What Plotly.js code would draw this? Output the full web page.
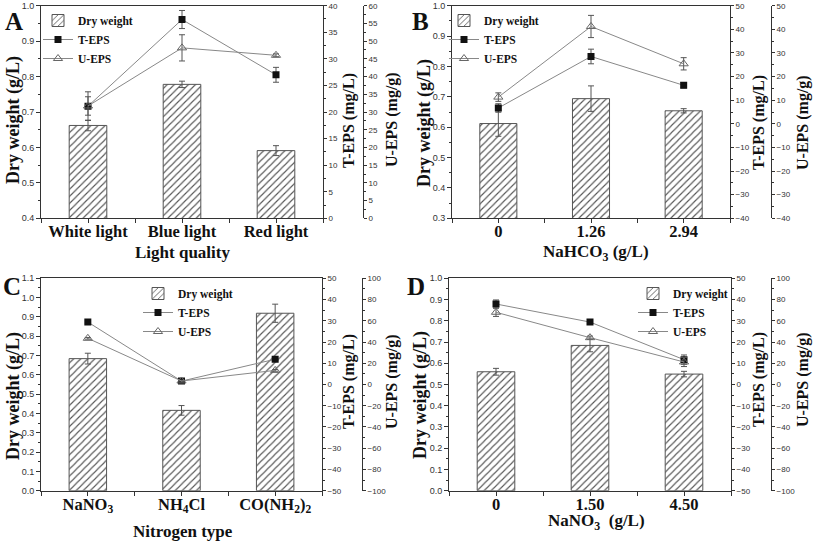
<!DOCTYPE html>
<html>
<head>
<meta charset="utf-8">
<script src="https://cdn.plot.ly/plotly-3.0.1.min.js"></script>
<style>html,body{margin:0;padding:0;background:#fff}#chart{width:813px;height:541px}</style>
</head>
<body>
<div id="chart"></div>
<script>
// ---------- DATA ----------
const catsA = ['White light', 'Blue light', 'Red light'];
const dryA = [0.662, 0.778, 0.591];
const dryErrA = [0.015, 0.009, 0.014];
const tepsA = [21.1, 37.4, 27.0];
const tepsErrA = [2.7, 1.7, 1.4];
const uepsA = [31.7, 48.1, 46.0];
const uepsErrA = [2.6, 3.7, 0.4];

const catsB = ['0', '1.26', '2.94'];
const dryB = [0.612, 0.694, 0.654];
const dryErrB = [0.042, 0.042, 0.007];
const tepsB = [6.7, 28.5, 16.3];
const tepsErrB = [1.8, 3.1, 1.1];
const uepsB = [11.3, 41.2, 25.4];
const uepsErrB = [1.8, 4.7, 2.6];

const catsC = ['NaNO<sub>3</sub>', 'NH<sub>4</sub>Cl', 'CO(NH<sub>2</sub>)<sub>2</sub>'];
const dryC = [0.684, 0.416, 0.919];
const dryErrC = [0.028, 0.025, 0.047];
const tepsC = [29.4, 1.6, 11.9];
const tepsErrC = [0.5, 0.5, 0.5];
const uepsC = [43.5, 3.3, 13.3];
const uepsErrC = [0.8, 0.8, 0.8];

const catsD = ['0', '1.50', '4.50'];
const dryD = [0.560, 0.684, 0.549];
const dryErrD = [0.016, 0.030, 0.013];
const tepsD = [37.9, 29.4, 11.7];
const tepsErrD = [1.9, 0.8, 2.2];
const uepsD = [68.0, 44.1, 21.2];
const uepsErrD = [3.9, 1.5, 4.3];

const xTitles = ['Light quality', 'NaHCO<sub>3</sub> (g/L)', 'Nitrogen type', 'NaNO<sub>3</sub>  (g/L)'];
const yTitleDry = 'Dry weight (g/L)';
const yTitleT = 'T-EPS (mg/L)';
const yTitleU = 'U-EPS (mg/g)';
const panelLetters = ['A', 'B', 'C', 'D'];

// ---------- STYLE / LAYOUT ----------
const W = 813, H = 541;
const SERIF = 'Liberation Serif, Times New Roman, serif';
const SANS = 'Liberation Sans, Arial, sans-serif';
const AX = '#333';
const LN = '#888';

const panels = [
  {cats: catsA, dry: dryA, dryErr: dryErrA, t: tepsA, tErr: tepsErrA, u: uepsA, uErr: uepsErrA,
   px: [41, 323], py: [5.7, 218.3], upos: 363, yr: [0.4, 1.0], tr: [0, 40], tdt: 5, ur: [0, 60], udt: 5,
   leg: [38, 6], letter: [14, 21],
   tDry: [13, 120], tT: [349, 121], tU: [392, 120], tX: [182, 252]},
  {cats: catsB, dry: dryB, dryErr: dryErrB, t: tepsB, tErr: tepsErrB, u: uepsB, uErr: uepsErrB,
   px: [452, 730], py: [5.7, 218.3], upos: 771, yr: [0.3, 1.0], tr: [-40, 50], tdt: 10, ur: [-40, 50], udt: 10,
   leg: [444, 6], letter: [420, 21],
   tDry: [424, 123], tT: [759, 123], tU: [803, 123], tX: [596, 253]},
  {cats: catsC, dry: dryC, dryErr: dryErrC, t: tepsC, tErr: tepsErrC, u: uepsC, uErr: uepsErrC,
   px: [41, 322], py: [278.3, 490.7], upos: 362, yr: [0, 1.1], tr: [-50, 50], tdt: 10, ur: [-100, 100], udt: 20,
   leg: [138, 279], letter: [12, 286],
   tDry: [13, 396], tT: [349, 382], tU: [392, 382], tX: [183, 531]},
  {cats: catsD, dry: dryD, dryErr: dryErrD, t: tepsD, tErr: tepsErrD, u: uepsD, uErr: uepsErrD,
   px: [449, 731], py: [278.3, 490.7], upos: 771, yr: [0, 1.0], tr: [-50, 50], tdt: 10, ur: [-100, 100], udt: 20,
   leg: [633, 279], letter: [416, 286],
   tDry: [420, 395], tT: [759, 380], tU: [803, 380], tX: [596, 522]}
];

const data = [];
const layout = {
  width: W, height: H,
  margin: {l: 0, r: 0, t: 0, b: 0},
  paper_bgcolor: '#fff', plot_bgcolor: 'rgba(0,0,0,0)',
  showlegend: true,
  annotations: []
};

const EPS = 1e-6;

function yAxisCommon(fs) {
  return {
    showgrid: false, zeroline: false, showline: true, linecolor: AX, linewidth: 1,
    ticks: 'outside', ticklen: 3, tickcolor: AX, tickwidth: 1,
    tickfont: {family: SANS, size: fs, color: '#333'}
  };
}

function titleAnn(text, pos, angle, size) {
  return {
    xref: 'paper', yref: 'paper', x: pos[0] / W, y: 1 - pos[1] / H,
    xanchor: 'center', yanchor: 'middle', showarrow: false, text: text, textangle: angle,
    font: {family: SERIF, size: size, weight: 'bold', color: '#111'}
  };
}

panels.forEach((p, i) => {
  const n = i + 1;
  const xid = n === 1 ? 'x' : 'x' + n;
  const yb = 3 * i + 1, yt = 3 * i + 2, yu = 3 * i + 3;
  const ybid = yb === 1 ? 'y' : 'y' + yb;
  const legId = n === 1 ? 'legend' : 'legend' + n;
  const xs = p.cats.map((_, k) => k);
  const xdom = [p.px[0] / W, p.px[1] / W];
  const ydom = [1 - p.py[1] / H, 1 - p.py[0] / H];

  data.push({
    type: 'bar', name: 'Dry weight', x: xs, y: p.dry, xaxis: xid, yaxis: ybid, legend: legId,
    width: 0.4,
    marker: {color: '#fff', line: {color: '#555', width: 1},
             pattern: {shape: '/', fgcolor: '#555', bgcolor: '#fff', size: 5, solidity: 0.22}},
    error_y: {type: 'data', array: p.dryErr, color: '#555', thickness: 1, width: 3}
  });
  data.push({
    type: 'scatter', mode: 'lines+markers', name: 'T-EPS', x: xs, y: p.t, xaxis: xid, yaxis: 'y' + yt, legend: legId,
    line: {color: LN, width: 1}, marker: {symbol: 'square', size: 7, color: '#111'},
    error_y: {type: 'data', array: p.tErr, color: '#555', thickness: 1, width: 3}
  });
  data.push({
    type: 'scatter', mode: 'lines+markers', name: 'U-EPS', x: xs, y: p.u, xaxis: xid, yaxis: 'y' + yu, legend: legId,
    line: {color: LN, width: 1}, marker: {symbol: 'triangle-up-open', size: 8, color: '#666', line: {width: 1}},
    error_y: {type: 'data', array: p.uErr, color: '#555', thickness: 1, width: 3}
  });

  layout['xaxis' + (n === 1 ? '' : n)] = {
    domain: xdom, anchor: ybid, range: [-0.5, 2.5],
    tickvals: xs, ticktext: p.cats,
    showgrid: false, zeroline: false, showline: true, linecolor: AX, mirror: true,
    ticks: 'outside', ticklen: 4, tickcolor: AX, ticklabelstandoff: -6,
    minor: {dtick: 0.5, tick0: 0.5, ticks: 'outside', ticklen: 4, tickcolor: AX},
    tickfont: {family: SERIF, size: 16.5, weight: 'bold', color: '#111'}
  };

  const ybase = yAxisCommon(9);
  Object.assign(ybase, {
    domain: ydom, anchor: xid, side: 'left', range: [p.yr[0], p.yr[1] + EPS], dtick: 0.1, tick0: 0, tickformat: '.1f',
    ticklen: 4,
    minor: {dtick: 0.05, ticks: 'outside', ticklen: 2, tickcolor: AX}
  });
  layout['yaxis' + (yb === 1 ? '' : yb)] = ybase;

  const yT = yAxisCommon(8);
  Object.assign(yT, {
    overlaying: ybid, anchor: xid, side: 'right', range: [p.tr[0], p.tr[1] + EPS * 100], dtick: p.tdt, tick0: 0,
    minor: {dtick: p.tdt / 2, ticks: 'outside', ticklen: 2, tickcolor: AX}
  });
  layout['yaxis' + yt] = yT;

  const yU = yAxisCommon(8);
  Object.assign(yU, {
    overlaying: ybid, anchor: 'free', position: p.upos / W, side: 'right', range: [p.ur[0], p.ur[1] + EPS * 100], dtick: p.udt, tick0: 0,
    minor: {dtick: p.udt / 2, ticks: 'outside', ticklen: 2, tickcolor: AX}
  });
  layout['yaxis' + yu] = yU;

  layout[legId] = {
    x: p.leg[0] / W, y: 1 - p.leg[1] / H, xanchor: 'left', yanchor: 'top',
    bgcolor: 'rgba(0,0,0,0)', borderwidth: 0, tracegroupgap: 0, itemwidth: 30,
    font: {family: SERIF, size: 11.5, weight: 'bold', color: '#111'}
  };

  layout.annotations.push({
    xref: 'paper', yref: 'paper', x: p.letter[0] / W, y: 1 - p.letter[1] / H,
    xanchor: 'center', yanchor: 'middle', showarrow: false, text: panelLetters[i],
    font: {family: SERIF, size: 25, weight: 'bold', color: '#111'}
  });
  layout.annotations.push(titleAnn(yTitleDry, p.tDry, -90, 18));
  layout.annotations.push(titleAnn(yTitleT, p.tT, -90, 16));
  layout.annotations.push(titleAnn(yTitleU, p.tU, -90, 16));
  layout.annotations.push(titleAnn(xTitles[i], p.tX, 0, 17));
});

Plotly.newPlot('chart', data, layout, {displayModeBar: false, responsive: false});
</script>
</body>
</html>
